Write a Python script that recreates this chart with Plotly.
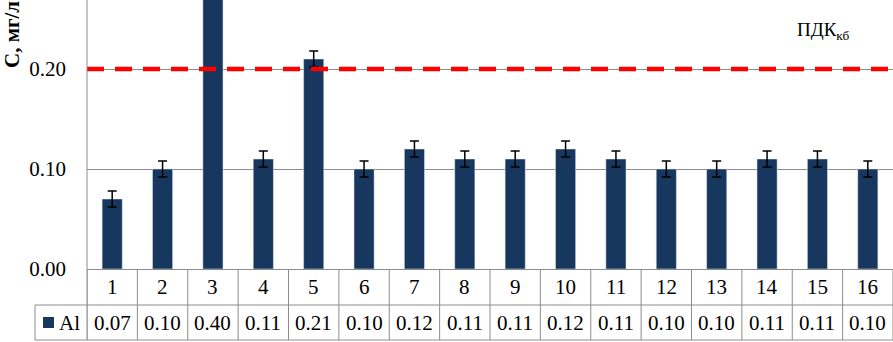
import plotly.graph_objects as go

categories = [str(i) for i in range(1, 17)]
values = [0.07, 0.10, 0.40, 0.11, 0.21, 0.10, 0.12, 0.11, 0.11, 0.12, 0.11, 0.10, 0.10, 0.11, 0.11, 0.10]
errors = [0.008] * 16
series_name = "Al"
pdk_value = 0.20
pdk_label = "ПДК<sub>кб</sub>"
y_ticks = [0.0, 0.10, 0.20]
y_title = "С, мг/л"

W, H = 893, 342
ml, mr, mt, mb = 87, 0, 0, 73
plot_h = H - mt - mb
GRAY = "#8c8c8c"
BAR = "#17375E"
FONT = "Liberation Serif"

xs = list(range(1, len(categories) + 1))

fig = go.Figure()
fig.add_trace(go.Bar(
    x=xs, y=values, width=0.4, marker_color=BAR, name=series_name,
    error_y=dict(type="data", array=errors, color="black", thickness=1.5, width=4.5),
    showlegend=False, hoverinfo="skip",
))

def py(px_from_bottom_of_plot):
    return px_from_bottom_of_plot / plot_h

shapes = []
shapes.append(dict(type="line", xref="paper", yref="y", x0=0, x1=1, y0=pdk_value, y1=pdk_value,
                   line=dict(color="#FF0000", width=4.5, dash="17px,11px"), layer="above"))
shapes.append(dict(type="line", xref="paper", yref="paper", x0=0, x1=0, y0=1, y1=py(-71),
                   line=dict(color=GRAY, width=1)))
for i in range(len(categories) + 1):
    shapes.append(dict(type="line", xref="x", yref="paper", x0=i + 0.5, x1=i + 0.5, y0=0, y1=py(-71),
                       line=dict(color=GRAY, width=1)))
legend_left = (35 - ml) / (W - ml - mr)
for yy in [-36, -71]:
    shapes.append(dict(type="line", xref="paper", yref="paper", x0=legend_left, x1=1, y0=py(yy), y1=py(yy),
                       line=dict(color=GRAY, width=1)))
shapes.append(dict(type="line", xref="paper", yref="paper", x0=legend_left, x1=legend_left, y0=py(-36), y1=py(-71),
                   line=dict(color=GRAY, width=1)))
shapes.append(dict(type="rect", xref="paper", yref="paper",
                   x0=(43 - ml) / (W - ml), x1=(54 - ml) / (W - ml), y0=py(-48), y1=py(-59),
                   fillcolor=BAR, line=dict(width=0)))

annotations = []
for x, c, v in zip(xs, categories, values):
    annotations.append(dict(x=x, xref="x", y=py(-18), yref="paper", text=c, showarrow=False,
                            font=dict(family=FONT, size=21, color="black"), yanchor="middle"))
    annotations.append(dict(x=x, xref="x", y=py(-54), yref="paper", text=f"{v:.2f}", showarrow=False,
                            font=dict(family=FONT, size=21, color="black"), yanchor="middle"))
annotations.append(dict(x=(57 - ml) / (W - ml), xref="paper", y=py(-54), yref="paper", text=series_name,
                        showarrow=False, xanchor="left", yanchor="middle",
                        font=dict(family=FONT, size=21, color="black")))
annotations.append(dict(x=(823 - ml) / (W - ml), xref="paper", y=py(269 - 31), yref="paper", text=pdk_label,
                        showarrow=False, xanchor="center", yanchor="middle",
                        font=dict(family=FONT, size=19, color="black")))
annotations.append(dict(x=(12 - ml) / (W - ml), xref="paper", y=py(269 - 35), yref="paper", text="<b>" + y_title + "</b>",
                        showarrow=False, textangle=-90, xanchor="center", yanchor="middle",
                        font=dict(family=FONT, size=21, color="black")))

fig.update_layout(
    width=W, height=H, margin=dict(l=ml, r=mr, t=mt, b=mb),
    paper_bgcolor="white", plot_bgcolor="white",
    shapes=shapes, annotations=annotations, bargap=0.6,
    xaxis=dict(range=[0.5, len(categories) + 0.5], showticklabels=False, showgrid=False,
               zeroline=False, showline=True, linecolor=GRAY, linewidth=1, ticks=""),
    yaxis=dict(range=[0, 0.269], tickvals=y_ticks, ticktext=[f"{t:.2f}" for t in y_ticks],
               showgrid=True, gridcolor=GRAY, gridwidth=1, zeroline=False, showline=False,
               ticks="", ticklabelstandoff=20,
               tickfont=dict(family=FONT, size=21, color="black")),
)

fig.write_html("out.html", config={"displayModeBar": False},
               post_script="document.body.style.margin='0';document.body.style.overflow='hidden';")
